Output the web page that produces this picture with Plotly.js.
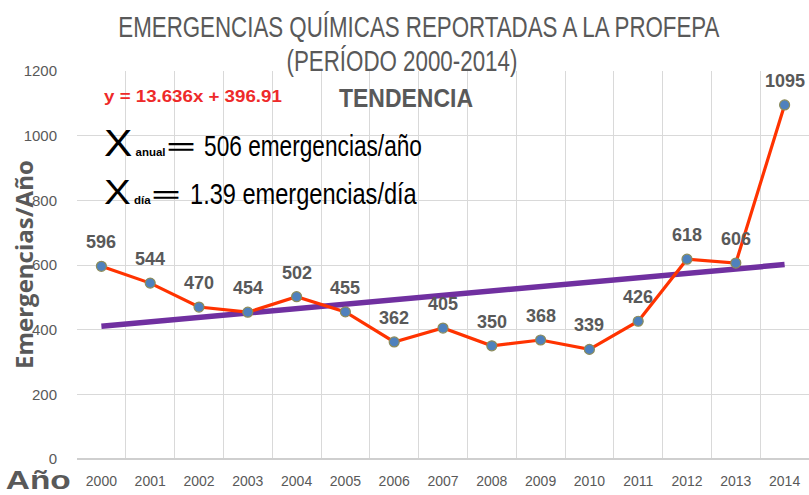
<!DOCTYPE html>
<html>
<head>
<meta charset="utf-8">
<script src="https://cdn.plot.ly/plotly-3.0.1.min.js"></script>
<style>html,body{margin:0;padding:0;background:#fff;}#chart{width:809px;height:495px;}</style>
</head>
<body>
<div id="chart"></div>
<script>
const years = ["2000","2001","2002","2003","2004","2005","2006","2007","2008","2009","2010","2011","2012","2013","2014"];
const emergencias = [596, 544, 470, 454, 502, 455, 362, 405, 350, 368, 339, 426, 618, 606, 1095];
const trendSlope = 13.636;
const trendIntercept = 396.91;
const trendValues = years.map((y, i) => trendSlope * (i + 1) + trendIntercept);
const titleLines = ['EMERGENCIAS QUÍMICAS REPORTADAS A LA PROFEPA', '(PERÍODO 2000-2014)'];
const equationText = 'y = 13.636x + 396.91';
const meanYear = 506;
const meanDay = 1.39;

const sans = '"Liberation Sans", Arial, sans-serif';
const grey = '#595959';

// plot area in pixels (layout helpers)
const PL = 77, PT = 71, PW = 732, PH = 388;
const px = (x) => (x - PL) / PW;          // pixel x -> paper x
const py = (y) => (PT + PH - y) / PH;     // pixel y -> paper y

const traces = [
  {
    x: years, y: trendValues, type: 'scatter', mode: 'lines',
    line: {color: '#7030a0', width: 5.5}, hoverinfo: 'skip', showlegend: false
  },
  {
    x: years, y: emergencias, type: 'scatter', mode: 'lines+markers',
    line: {color: '#ff3300', width: 3.2},
    marker: {color: '#4f81bd', size: 10, line: {color: '#8c8c5a', width: 1.2}},
    showlegend: false, cliponaxis: false
  }
];

const fits = [];
const annotations = [];
function addAnn(a, fitWidth, origin) {
  annotations.push(a);
  fits.push(fitWidth ? {w: fitWidth, o: origin || 'center'} : null);
}

addAnn({xref: 'paper', yref: 'paper', x: px(419), y: py(27), xanchor: 'center', yanchor: 'middle',
  text: titleLines[0], showarrow: false, font: {family: sans, size: 29, color: grey}}, 602, 'center');
addAnn({xref: 'paper', yref: 'paper', x: px(402), y: py(61), xanchor: 'center', yanchor: 'middle',
  text: titleLines[1], showarrow: false, font: {family: sans, size: 29, color: grey}}, 231, 'center');
addAnn({xref: 'paper', yref: 'paper', x: px(102), y: py(96), xanchor: 'left', yanchor: 'middle',
  text: '<b>' + equationText + '</b>', showarrow: false, font: {family: sans, size: 16, color: '#ee2a2a'}}, 178, 'left');
addAnn({xref: 'paper', yref: 'paper', x: px(337), y: py(98), xanchor: 'left', yanchor: 'middle',
  text: '<b>TENDENCIA</b>', showarrow: false, font: {family: sans, size: 25, color: grey}}, 134, 'left');
// mean per year
addAnn({xref: 'paper', yref: 'paper', x: px(102), y: py(143), xanchor: 'left', yanchor: 'middle',
  text: '<span style="font-size:37px">X</span><b> anual </b><span style="font-size:30px">═</span>', showarrow: false,
  font: {family: sans, size: 10, color: '#000'}}, 90, 'left');
addAnn({xref: 'paper', yref: 'paper', x: px(202), y: py(145), xanchor: 'left', yanchor: 'middle',
  text: meanYear + ' emergencias/año', showarrow: false,
  font: {family: sans, size: 30, color: '#000'}}, 218, 'left');
// mean per day
addAnn({xref: 'paper', yref: 'paper', x: px(102), y: py(191), xanchor: 'left', yanchor: 'middle',
  text: '<span style="font-size:35px">X</span><b> día </b><span style="font-size:30px">═</span>', showarrow: false,
  font: {family: sans, size: 10, color: '#000'}}, 75, 'left');
addAnn({xref: 'paper', yref: 'paper', x: px(188), y: py(193), xanchor: 'left', yanchor: 'middle',
  text: meanDay + ' emergencias/día', showarrow: false,
  font: {family: sans, size: 30, color: '#000'}}, 227, 'left');
addAnn({xref: 'paper', yref: 'paper', x: px(23), y: py(265), xanchor: 'center', yanchor: 'middle',
  textangle: -90, text: '<b>Emergencias/Año</b>', showarrow: false,
  font: {family: '"Open Sans", sans-serif', size: 24, color: grey}}, null);
addAnn({xref: 'paper', yref: 'paper', x: px(38), y: py(480), xanchor: 'center', yanchor: 'middle',
  text: '<b>Año</b>', showarrow: false,
  font: {family: sans, size: 25, color: grey}}, 65, 'center');
years.forEach((yr, i) => {
  addAnn({x: i, y: emergencias[i], xref: 'x', yref: 'y', yshift: 24, xanchor: 'center', yanchor: 'middle',
    text: '<b>' + emergencias[i] + '</b>', showarrow: false,
    font: {family: sans, size: 18, color: grey}}, null);
});

const layout = {
  width: 809, height: 495,
  margin: {l: PL, r: 809 - PL - PW, t: PT, b: 495 - PT - PH},
  paper_bgcolor: '#fff', plot_bgcolor: '#fff',
  showlegend: false,
  xaxis: {
    type: 'category', tickson: 'boundaries', range: [-0.5, 14.5],
    showgrid: true, gridcolor: '#d9d9d9', gridwidth: 1,
    showline: false, zeroline: false, ticks: '', ticklabelstandoff: 12,
    tickfont: {family: sans, size: 14, color: grey},
    fixedrange: true
  },
  yaxis: {
    range: [0, 1200], dtick: 200, tick0: 0,
    showgrid: true, gridcolor: '#d9d9d9', gridwidth: 1,
    zeroline: true, zerolinecolor: '#cfcfcf', zerolinewidth: 1.5,
    showline: false, ticks: '', ticklabelstandoff: 19,
    tickfont: {family: sans, size: 15, color: grey},
    automargin: false, fixedrange: true
  },
  annotations: annotations
};

Plotly.newPlot('chart', traces, layout, {displayModeBar: false, staticPlot: true}).then(() => {
  document.querySelectorAll('#chart .annotation').forEach((g) => {
    const idx = parseInt(g.getAttribute('data-index'), 10);
    const f = fits[idx];
    if (!f) return;
    const t = g.querySelector('text.annotation-text');
    if (!t) return;
    const w = t.getBBox().width;
    if (!w) return;
    t.style.transformBox = 'fill-box';
    t.style.transformOrigin = f.o + ' center';
    t.style.transform = 'scaleX(' + (f.w / w) + ')';
  });
});
</script>
</body>
</html>
